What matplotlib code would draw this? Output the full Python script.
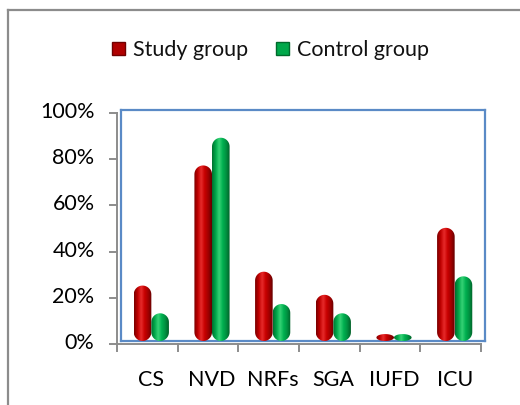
import matplotlib
matplotlib.use("Agg")
import matplotlib.pyplot as plt
import numpy as np
from matplotlib.path import Path
from matplotlib.patches import PathPatch, Patch, Rectangle
from matplotlib.lines import Line2D
from matplotlib.colors import LinearSegmentedColormap
from matplotlib.legend_handler import HandlerPatch
import matplotlib.transforms as mtransforms

categories = ["CS", "NVD", "NRFs", "SGA", "IUFD", "ICU"]
study = [24, 76, 30, 20, 3, 49]
control = [12, 88, 16, 12, 3, 28]
series_names = ["Study group", "Control group"]
yticks = [0, 20, 40, 60, 80, 100]
ytick_labels = ["0%", "20%", "40%", "60%", "80%", "100%"]

plt.rcParams["font.family"] = ["Lato", "DejaVu Sans"]
plt.rcParams["text.color"] = "#111111"

fig = plt.figure(figsize=(5.2, 4.05), dpi=100)
ax = fig.add_axes([121 / 520, 1 - 341 / 405, 364 / 520, 231 / 405])
ax.set_xlim(-0.5, len(categories) - 0.5)
ax.set_ylim(0, 100)

# back wall outline
for s in ax.spines.values():
    s.set_color("#5a8ac6")
    s.set_linewidth(1.6)

red_cmap = LinearSegmentedColormap.from_list(
    "red", ["#780000", "#c00000", "#e62a2a", "#c80000", "#a00000", "#640000"])
green_cmap = LinearSegmentedColormap.from_list(
    "green", ["#007030", "#00a84a", "#36d275", "#00b050", "#009040", "#006028"])

bw = 0.29
fig.canvas.draw()
px_per_x = ax.bbox.width / (ax.get_xlim()[1] - ax.get_xlim()[0])
px_per_y = ax.bbox.height / (ax.get_ylim()[1] - ax.get_ylim()[0])
grad = np.linspace(0, 1, 64).reshape(1, -1)


def capsule(x0, w, h):
    # rounded top and bottom ends, kept circular on screen
    rx = w / 2
    ry = min(rx * px_per_x / px_per_y, h / 2)
    t1 = np.linspace(np.pi, 0, 24)
    t2 = np.linspace(0, -np.pi, 24)
    cx = x0 + rx
    top = [(cx + rx * np.cos(t), h - ry + ry * np.sin(t)) for t in t1]
    bot = [(cx + rx * np.cos(t), ry + ry * np.sin(t)) for t in t2]
    verts = top + bot + [top[0]]
    codes = [Path.MOVETO] + [Path.LINETO] * (len(verts) - 2) + [Path.CLOSEPOLY]
    return Path(verts, codes)


x = np.arange(len(categories))
bars_s = ax.bar(x - bw / 2, study, bw, color="none")
bars_c = ax.bar(x + bw / 2, control, bw, color="none")

for bars, cmap in [(bars_s, red_cmap), (bars_c, green_cmap)]:
    for b in bars:
        x0, h, w = b.get_x(), b.get_height(), b.get_width()
        patch = PathPatch(capsule(x0, w, h), facecolor="none", edgecolor="none")
        ax.add_patch(patch)
        im = ax.imshow(grad, cmap=cmap, extent=(x0, x0 + w, 0, h),
                       aspect="auto", interpolation="bilinear", zorder=3)
        im.set_clip_path(patch)
ax.set_aspect("auto")
ax.set_xlim(-0.5, len(categories) - 0.5)
ax.set_ylim(0, 100)

ax.set_yticks(yticks)
ax.set_yticklabels(ytick_labels)
ax.set_xticks(x)
ax.set_xticklabels(categories)
ax.tick_params(axis="y", length=0, pad=19, labelsize=15.5)
ax.tick_params(axis="x", length=0, pad=21, labelsize=15.5)

# front axis lines in grey, shifted down-left
off = mtransforms.ScaledTranslation(-4 / 100, -3 / 100, fig.dpi_scale_trans)
gray = "#8c8c8c"
ta = ax.transAxes + off
ax.add_line(Line2D([0, 0], [0, 1], transform=ta, color=gray, lw=1.4, clip_on=False))
ax.add_line(Line2D([0, 1], [0, 0], transform=ta, color=gray, lw=1.4, clip_on=False))
ty = ax.get_yaxis_transform() + off
for v in yticks:
    ax.add_line(Line2D([-0.02, 0], [v, v], transform=ty, color=gray, lw=1.4, clip_on=False))
tx = ax.get_xaxis_transform() + off
for b in np.arange(len(categories) + 1) - 0.5:
    ax.add_line(Line2D([b, b], [0, -0.03], transform=tx, color=gray, lw=1.4, clip_on=False))

# chart area border (top and left edges)
fig.add_artist(Line2D([8 / 520, 8 / 520], [0, 1 - 10 / 405], color="#8c8c8c", lw=1.6))
fig.add_artist(Line2D([8 / 520, 1], [1 - 10 / 405, 1 - 10 / 405], color="#8c8c8c", lw=1.6))


def square_key(legend, orig_handle, xdescent, ydescent, width, height, fontsize):
    s = 0.6 * fontsize
    return Rectangle((-xdescent + (width - s) / 2, -ydescent + (height - s) / 2), s, s)


handles = [Patch(facecolor="#b00000", edgecolor="#700000"),
           Patch(facecolor="#00a84a", edgecolor="#006a2c")]
fig.legend(handles, series_names, loc="center", bbox_to_anchor=(0.52, 1 - 50 / 405),
           ncol=2, frameon=False, fontsize=15.5, handlelength=0.62, handleheight=0.7,
           handletextpad=0.35, columnspacing=1.3,
           handler_map={Patch: HandlerPatch(patch_func=square_key)})

fig.savefig("out.png", dpi=100)
